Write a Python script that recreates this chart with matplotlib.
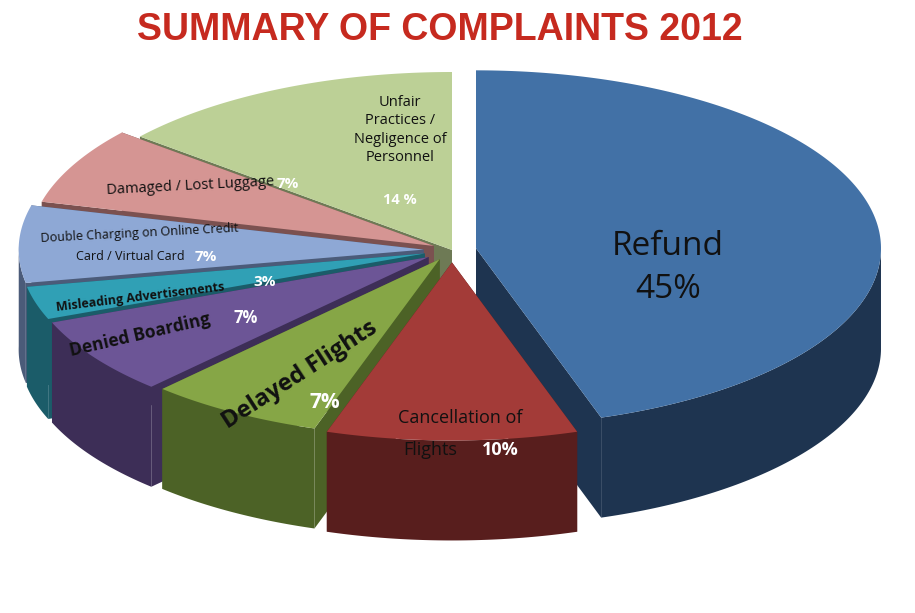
import matplotlib.pyplot as plt
import numpy as np
from matplotlib.patches import Polygon

labels = ['Refund', 'Cancellation of Flights', 'Delayed Flights', 'Denied Boarding',
          'Misleading Advertisements', 'Double Charging on Online Credit Card / Virtual Card',
          'Damaged / Lost Luggage', 'Unfair Practices / Negligence of Personnel']
values = [45, 10, 7, 7, 3, 7, 7, 14]
top_colors = ['#4271A6', '#A33B38', '#86A646', '#6C5596', '#30A0B5', '#8EA8D5', '#D59593', '#BCD096']
side_colors = ['#1E3450', '#581E1D', '#4C6226', '#3D2E57', '#1B5C69', '#4B5B79', '#7B5150', '#6E7A55']
explode = [0.06, 0.07, 0.06, 0.07, 0.07, 0.07, 0.05, 0.0]

cx, cy, rx, ry, depth = 452, 250, 405, 178, 100

fig = plt.figure(figsize=(9.15, 6.13), dpi=100)
ax = fig.add_axes([0, 0, 1, 1])
ax.set_xlim(0, 915)
ax.set_ylim(613, 0)
ax.axis('off')

fracs = np.array(values) / sum(values)
ends = 90 - np.cumsum(fracs) * 360
starts = np.concatenate([[90], ends[:-1]])


def pt(t, ox, oy, r=1.0, dy=0):
    t = np.radians(t)
    return ox + cx + r * rx * np.cos(t), oy + cy - r * ry * np.sin(t) + dy


order = sorted(range(len(values)), key=lambda i: -np.sin(np.radians((starts[i] + ends[i]) / 2)))
for i in order:
    a1, a2 = ends[i], starts[i]
    mid = np.radians((a1 + a2) / 2)
    ox, oy = explode[i] * rx * np.cos(mid), -explode[i] * ry * np.sin(mid)
    c0 = (cx + ox, cy + oy)
    # radial walls
    for a in (a1, a2):
        x, y = pt(a, ox, oy)
        ax.add_patch(Polygon([c0, (x, y), (x, y + depth), (c0[0], c0[1] + depth)],
                             closed=True, fc=side_colors[i], ec='none'))
    # outer wall (front part only)
    ts = np.linspace(a1, a2, 200)
    front = ts[np.sin(np.radians(ts)) < 0.02]
    if len(front) > 1:
        xs, ys = pt(front, ox, oy)
        poly = list(zip(xs, ys)) + list(zip(xs[::-1], ys[::-1] + depth))
        ax.add_patch(Polygon(poly, closed=True, fc=side_colors[i], ec='none'))
    xs, ys = pt(ts, ox, oy)
    ax.add_patch(Polygon([c0] + list(zip(xs, ys)), closed=True, fc=top_colors[i], ec='none'))

fam = ['Open Sans', 'DejaVu Sans']
ax.text(440, 30, 'SUMMARY OF COMPLAINTS 2012', ha='center', va='center', fontsize=27,
        fontweight='bold', color='#C62A1F', family=['Liberation Sans Narrow', 'Liberation Sans', 'DejaVu Sans'])
ax.text(668, 268, 'Refund\n45%', ha='center', va='center', fontsize=24, color='#111111',
        family=fam, linespacing=1.4)
ax.text(460, 418, 'Cancellation of', ha='center', va='center', fontsize=13, color='#111', family=fam)
ax.text(430, 450, 'Flights', ha='center', va='center', fontsize=13, color='#111', family=fam)
ax.text(500, 450, '10%', ha='center', va='center', fontsize=13, color='white', fontweight='bold', family=fam)
ax.text(300, 375, 'Delayed Flights', ha='center', va='center', fontsize=17, fontweight='bold',
        color='#111', rotation=33, family=fam)
ax.text(325, 403, '7%', ha='center', va='center', fontsize=15, fontweight='bold', color='white', family=fam)
ax.text(140, 335, 'Denied Boarding', ha='center', va='center', fontsize=12.5, fontweight='bold',
        color='#111', rotation=13, family=fam)
ax.text(246, 318, '7%', ha='center', va='center', fontsize=12, fontweight='bold', color='white', family=fam)
ax.text(140, 297, 'Misleading Advertisements', ha='center', va='center', fontsize=9, fontweight='bold',
        color='#111', rotation=7, family=fam)
ax.text(265, 282, '3%', ha='center', va='center', fontsize=11, fontweight='bold', color='white', family=fam)
ax.text(140, 233, 'Double Charging on Online Credit', ha='center', va='center', fontsize=9,
        color='#111', rotation=3, family=fam)
ax.text(130, 257, 'Card / Virtual Card', ha='center', va='center', fontsize=9, color='#111', family=fam)
ax.text(206, 257, '7%', ha='center', va='center', fontsize=11, fontweight='bold', color='white', family=fam)
ax.text(190, 186, 'Damaged / Lost Luggage', ha='center', va='center', fontsize=10.5, color='#111',
        rotation=3, family=fam)
ax.text(288, 184, '7%', ha='center', va='center', fontsize=11, fontweight='bold', color='white', family=fam)
ax.text(400, 130, 'Unfair\nPractices /\nNegligence of\nPersonnel', ha='center', va='center',
        fontsize=10.5, color='#111', family=fam, linespacing=1.3)
ax.text(400, 200, '14 %', ha='center', va='center', fontsize=10.5, fontweight='bold', color='white', family=fam)

fig.savefig('out.png', dpi=100)
